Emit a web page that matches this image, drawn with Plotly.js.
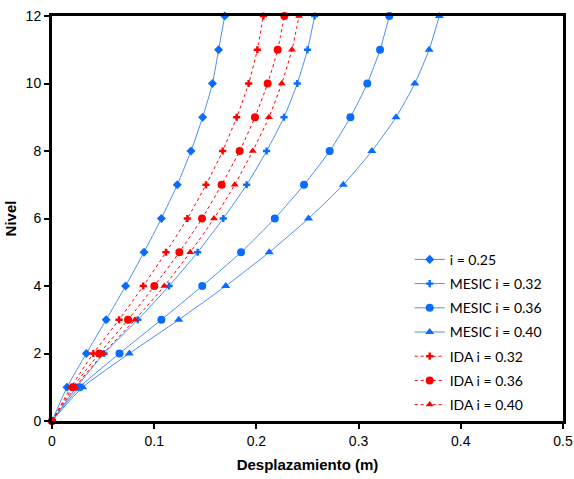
<!DOCTYPE html>
<html>
<head>
<meta charset="utf-8">
<script src="https://cdn.plot.ly/plotly-3.0.1.min.js"></script>
<style>html,body{margin:0;padding:0;background:#fff;}#chart{width:574px;height:479px;}</style>
</head>
<body>
<div id="chart"></div>
<script>
const niveles = [0, 1, 2, 3, 4, 5, 6, 7, 8, 9, 10, 11, 12];
const i025      = [0, 0.0147, 0.0336, 0.053, 0.072, 0.090, 0.107, 0.1226, 0.136, 0.1474, 0.157, 0.163, 0.169];
const mesic032  = [0, 0.024, 0.051, 0.084, 0.1145, 0.1425, 0.1676, 0.1905, 0.210, 0.227, 0.240, 0.250, 0.257];
const mesic036  = [0, 0.027, 0.066, 0.107, 0.147, 0.185, 0.218, 0.2466, 0.2717, 0.292, 0.3085, 0.321, 0.330];
const mesic040  = [0, 0.030, 0.0757, 0.124, 0.170, 0.2126, 0.251, 0.285, 0.313, 0.3366, 0.355, 0.369, 0.379];
const ida032    = [0, 0.0186, 0.0404, 0.0656, 0.0893, 0.1115, 0.1324, 0.1507, 0.167, 0.1807, 0.1924, 0.2009, 0.2068];
const ida036    = [0, 0.0205, 0.0463, 0.0744, 0.1001, 0.1246, 0.1468, 0.166, 0.1836, 0.1986, 0.211, 0.2208, 0.2273];
const ida040    = [0, 0.0225, 0.0502, 0.0812, 0.1099, 0.1353, 0.1585, 0.1788, 0.1964, 0.2123, 0.2248, 0.2348, 0.2417];

const xTicks = [0, 0.1, 0.2, 0.3, 0.4, 0.5];
const xTickText = ['0', '0.1', '0.2', '0.3', '0.4', '0.5'];
const yTicks = [0, 2, 4, 6, 8, 10, 12];

const blueLine = '#4a8ff5';
const blueMark = '#0a6cff';
const red = '#ff0000';

function tr(name, xs, sym, size, lc, mc, dash, g) {
  return {
    x: xs, y: niveles, name: name, type: 'scatter', mode: 'lines+markers',
    line: {color: lc, width: 1, dash: dash, shape: 'spline', smoothing: 0.6},
    marker: {symbol: sym, size: size, color: mc},
    cliponaxis: false, legendgroup: g
  };
}

const data = [
  tr('i = 0.25', i025, 'diamond', 7, blueLine, blueMark, 'solid', 'a'),
  tr('MESIC i = 0.32', mesic032, 'cross', 6, blueLine, blueMark, 'solid', 'b'),
  tr('MESIC i = 0.36', mesic036, 'circle', 8, blueLine, blueMark, 'solid', 'c'),
  tr('MESIC i = 0.40', mesic040, 'triangle-up', 8, blueLine, blueMark, 'solid', 'd'),
  tr('IDA i = 0.32', ida032, 'cross', 6, red, red, 'dot', 'e'),
  tr('IDA i = 0.36', ida036, 'circle', 8, red, red, 'dot', 'f'),
  tr('IDA i = 0.40', ida040, 'triangle-up', 7, red, red, 'dot', 'g')
];

const layout = {
  width: 574, height: 479,
  margin: {l: 52, r: 11, t: 16, b: 58},
  paper_bgcolor: '#fff', plot_bgcolor: '#fff',
  font: {family: 'Liberation Sans, Arial, sans-serif', size: 14, color: '#000'},
  showlegend: true,
  legend: {
    x: 0.70, y: 0.4375, xanchor: 'left', yanchor: 'top',
    font: {family: 'Lato, Liberation Sans, sans-serif', size: 14, color: '#000'},
    bgcolor: 'rgba(255,255,255,0)', borderwidth: 0, tracegroupgap: 3
  },
  xaxis: {
    range: [0, 0.5], tickvals: xTicks, ticktext: xTickText,
    showgrid: false, zeroline: false,
    showline: true, linecolor: '#000', linewidth: 3, mirror: true,
    ticks: 'outside', ticklen: 5, tickwidth: 2, tickcolor: '#000',
    tickfont: {size: 14},
    title: {text: '<b>Desplazamiento (m)</b>', font: {size: 15}, standoff: 12}
  },
  yaxis: {
    range: [0, 12], tickvals: yTicks,
    showgrid: false, zeroline: false,
    showline: true, linecolor: '#000', linewidth: 3, mirror: true,
    ticks: 'outside', ticklen: 5, tickwidth: 2, tickcolor: '#000',
    tickfont: {size: 14},
    title: {text: '<b>Nivel</b>', font: {size: 15}, standoff: 6}
  }
};

Plotly.newPlot('chart', data, layout, {displayModeBar: false, staticPlot: true});
</script>
</body>
</html>
